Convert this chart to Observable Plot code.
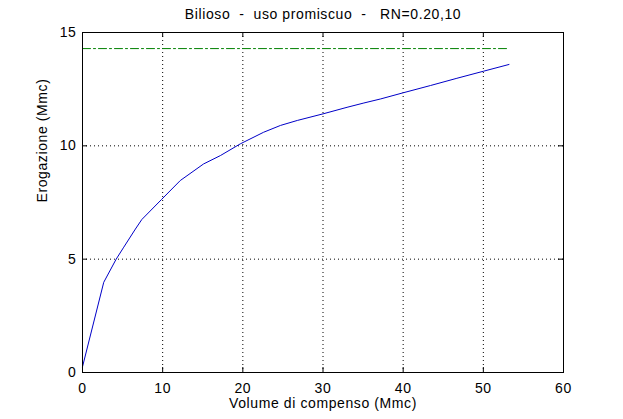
<!DOCTYPE html>
<html>
<head>
<meta charset="utf-8">
<script src="https://cdn.jsdelivr.net/npm/d3@7"></script>
<script src="https://cdn.jsdelivr.net/npm/@observablehq/plot@0.6"></script>
<style>
  html, body { margin: 0; padding: 0; background: #fff; }
  svg text { letter-spacing: 0.6px; }
</style>
</head>
<body>
<div id="chart"></div>
<script>
const titleText = "Bilioso  -  uso promiscuo  -   RN=0.20,10";
const xLabel = "Volume di compenso (Mmc)";
const yLabel = "Erogazione (Mmc)";

const xTicks = [0, 10, 20, 30, 40, 50, 60];
const yTicks = [0, 5, 10, 15];

// Curve: volume di compenso vs erogazione
const volume = [0, 2.65, 4.2, 5.15, 6.6, 7.4, 9.85, 12.2, 15.1, 17.2, 19.7, 22.6, 24.7, 26.8, 30.0, 33.0, 35.1, 37.2, 40.0, 43.4, 46.7, 50.0, 53.2];
const erogazione = [0.25, 3.98, 5.0, 5.53, 6.33, 6.75, 7.63, 8.47, 9.2, 9.57, 10.09, 10.6, 10.9, 11.12, 11.41, 11.70, 11.89, 12.07, 12.34, 12.66, 12.98, 13.29, 13.59];

// Horizontal reference (dash-dot)
const refX = [0, 53.2];
const refY = 14.29;

const curve = volume.map((v, i) => ({x: v, y: erogazione[i]}));
const refLine = refX.map(x => ({x, y: refY}));

const W = 623, H = 419, mL = 82, mR = 60, mT = 32, mB = 47;
const plotW = W - mL - mR, plotH = H - mT - mB;
const tick = 5;
const font = "'Liberation Sans', Arial, Helvetica, sans-serif";

const chart = Plot.plot({
  width: W,
  height: H,
  marginLeft: mL,
  marginRight: mR,
  marginTop: mT,
  marginBottom: mB,
  style: {fontFamily: font, fontSize: "14px", background: "#fff", color: "#000"},
  x: {domain: [0, 60], axis: null},
  y: {domain: [0, 15], axis: null},
  marks: [
    Plot.ruleX(xTicks.slice(1, -1), {stroke: "#000", strokeWidth: 1, strokeDasharray: "1,3"}),
    Plot.ruleY(yTicks.slice(1, -1), {stroke: "#000", strokeWidth: 1, strokeDasharray: "1,3"}),
    Plot.line(refLine, {x: "x", y: "y", stroke: "#008000", strokeWidth: 1, strokeDasharray: "8,3,2,3"}),
    Plot.line(curve, {x: "x", y: "y", stroke: "#0000c8", strokeWidth: 1}),
    Plot.frame({stroke: "#000", strokeWidth: 1}),
    Plot.ruleX(xTicks, {stroke: "#000", insetTop: plotH - tick}),
    Plot.ruleX(xTicks, {stroke: "#000", insetBottom: plotH - tick}),
    Plot.ruleY(yTicks, {stroke: "#000", insetRight: plotW - tick}),
    Plot.ruleY(yTicks, {stroke: "#000", insetLeft: plotW - tick}),
    Plot.text(xTicks, {x: d => d, text: d => String(d), frameAnchor: "bottom", lineAnchor: "middle", dy: 16, fill: "#000", fontSize: 14}),
    Plot.text(yTicks, {y: d => d, text: d => String(d), frameAnchor: "left", textAnchor: "end", dx: -6, fill: "#000", fontSize: 14}),
    Plot.text([xLabel], {text: d => d, frameAnchor: "bottom", lineAnchor: "middle", dy: 31, fill: "#000", fontSize: 14}),
    Plot.text([yLabel], {text: d => d, frameAnchor: "left", rotate: -90, lineAnchor: "middle", dx: -40, fill: "#000", fontSize: 14}),
    Plot.text([titleText], {text: d => d, frameAnchor: "top", lineAnchor: "middle", dy: -18, fill: "#000", fontSize: 14})
  ]
});
chart.querySelectorAll("text").forEach(t => t.setAttribute("xml:space", "preserve"));
chart.querySelectorAll("text").forEach(t => t.style.whiteSpace = "pre");
document.getElementById("chart").appendChild(chart);
</script>
</body>
</html>
